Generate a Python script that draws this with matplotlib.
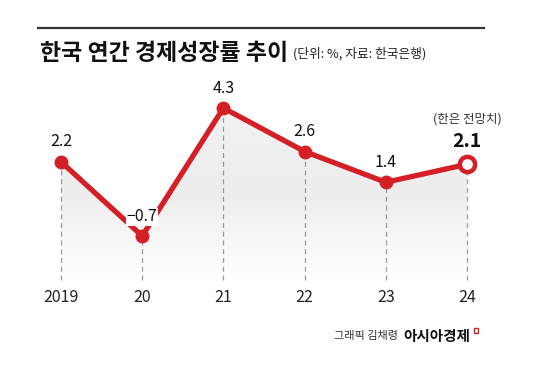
import matplotlib
matplotlib.use("Agg")
import matplotlib.pyplot as plt
import numpy as np
from matplotlib.patches import Polygon
from matplotlib.colors import LinearSegmentedColormap

plt.rcParams['font.family'] = ['Noto Sans CJK KR', 'DejaVu Sans']

years = ["2019", "20", "21", "22", "23", "24"]
growth = [2.2, -0.7, 4.3, 2.6, 1.4, 2.1]
value_labels = ["2.2", "\u22120.7", "4.3", "2.6", "1.4", "2.1"]

RED = "#d41f26"
W, H = 550, 366
fig = plt.figure(figsize=(W / 100, H / 100), dpi=100)
ax = fig.add_axes([0, 0, 1, 1])
x = np.arange(len(years))

# pixel mapping via axis limits
x0px, dxpx = 61, 81.2
ax.set_xlim(-x0px / dxpx, (W - x0px) / dxpx)
pv = 25.6  # px per unit
ymin_v = -0.7 - (H - 236) / pv
ymax_v = -0.7 + 236 / pv
ax.set_ylim(ymin_v, ymax_v)
ax.axis('off')

base = -0.7 - (280 - 236) / pv

# gradient fill under line
verts = [(x[0], base)] + list(zip(x, growth)) + [(x[-1], base)]
poly = Polygon(verts, closed=True, facecolor='none', edgecolor='none')
ax.add_patch(poly)
grad = np.linspace(0, 1, 256).reshape(-1, 1)
cmap = LinearSegmentedColormap.from_list('g', ['#ffffff', '#ededed', '#f2f2f2'])
im = ax.imshow(grad, extent=[x[0], x[-1], base, max(growth)], origin='lower',
               aspect='auto', cmap=cmap, vmin=0, vmax=1, zorder=1)
im.set_clip_path(poly)

# dashed drop lines
for xi, v in zip(x, growth):
    ax.plot([xi, xi], [base, v], ls=(0, (4, 3)), color='#9a9a9a', lw=0.9, zorder=2)

ax.plot(x, growth, color=RED, lw=3.8, zorder=3, solid_capstyle='round')
ax.plot(x[:-1], growth[:-1], 'o', color=RED, ms=9, zorder=4)
ax.plot(x[-1], growth[-1], 'o', mfc='white', mec=RED, mew=3.2, ms=11, zorder=5)

# value labels
for i, (xi, v, lab) in enumerate(zip(x, growth, value_labels)):
    if i == 1:
        ax.text(xi, v + 0.75, lab, ha='center', va='center', fontsize=11.5,
                color='#111111', zorder=6,
                bbox=dict(boxstyle='square,pad=0.05', fc='white', ec='none'))
    elif i == 5:
        ax.text(xi, v + 0.88, lab, ha='center', va='center', fontsize=14,
                fontweight='bold', color='#111111', zorder=6)
        ax.text(xi, v + 1.78, "(한은 전망치)", ha='center', va='center', fontsize=9,
                color='#333333', zorder=6)
    else:
        ax.text(xi, v + 0.78, lab, ha='center', va='center', fontsize=11.5,
                color='#111111', zorder=6)

# x labels
for xi, lab in zip(x, years):
    ax.text(xi, -0.7 - (297 - 236) / pv, lab, ha='center', va='center',
            fontsize=11.5, color='#222222')

# top rule
fig.add_artist(plt.Line2D([38 / W, 484 / W], [1 - 28 / H, 1 - 28 / H],
                          color='#333333', lw=1.6))

# title
fig.text(40 / W, 1 - 53 / H, "한국 연간 경제성장률 추이", fontsize=16.5,
         fontweight='bold', color='#111111', ha='left', va='center')
fig.text(293 / W, 1 - 54 / H, "(단위: %, 자료: 한국은행)", fontsize=9.2,
         color='#222222', ha='left', va='center')

# footer
fig.text(398 / W, 1 - 336 / H, "그래픽 김채령", fontsize=8, color='#333333',
         ha='right', va='center')
fig.text(403 / W, 1 - 336 / H, "아시아경제", fontsize=10.5, fontweight='bold',
         color='#111111', ha='left', va='center')
fig.add_artist(plt.Rectangle((474 / W, 1 - 333 / H), 4 / W, 5 / H,
                             fill=False, ec=RED, lw=1.0))

fig.savefig("out.png", dpi=100)
